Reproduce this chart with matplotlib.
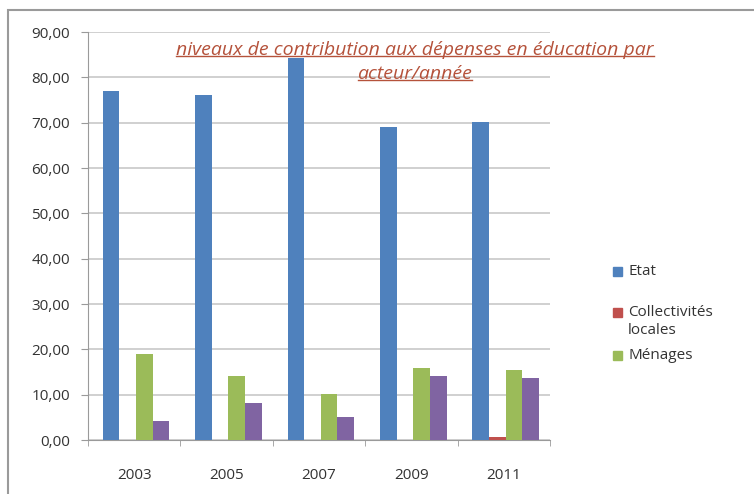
import matplotlib
matplotlib.use("Agg")
import matplotlib.pyplot as plt
from matplotlib.ticker import FuncFormatter, FixedLocator
from matplotlib.patches import Rectangle
import numpy as np

# data
years = ["2003", "2005", "2007", "2009", "2011"]
etat = [77.0, 76.1, 84.3, 69.0, 70.1]
collectivites = [0.0, 0.0, 0.0, 0.0, 0.7]
menages = [19.0, 14.1, 10.1, 15.9, 15.4]
autres = [4.2, 8.2, 5.1, 14.1, 13.7]

series_names = ["Etat", "Collectivités\nlocales", "Ménages"]
colors = ["#4F81BD", "#C0504D", "#9BBB59", "#8064A2"]

plt.rcParams['font.family'] = ['Open Sans', 'DejaVu Sans']

W, H = 754, 494
fig = plt.figure(figsize=(W / 100, H / 100), dpi=100)
# outer chart frame (cut off on the right and bottom, like the screenshot)
fig.patches.append(Rectangle((8 / W, -0.1), 1.2, (H - 10) / H + 0.1,
                             transform=fig.transFigure, fill=False,
                             edgecolor="#9a9a9a", linewidth=1.5))

ax = fig.add_axes([88 / W, 54 / H, 462 / W, 408 / H])

x = np.arange(len(years))
w = 0.18
offsets = [-1.5 * w, -0.5 * w, 0.5 * w, 1.5 * w]
for vals, off, c in zip([etat, collectivites, menages, autres], offsets, colors):
    ax.bar(x + off + 0.02, vals, width=w, color=c, zorder=3)

ax.set_xlim(-0.5, len(years) - 0.5)
ax.set_ylim(0, 90)
ax.set_yticks(np.arange(0, 91, 10))
ax.yaxis.set_major_formatter(FuncFormatter(lambda v, p: f"{v:.2f}".replace(".", ",")))
ax.set_xticks(x)
ax.set_xticklabels(years)
ax.xaxis.set_minor_locator(FixedLocator(np.arange(-0.5, len(years), 1)))
ax.tick_params(axis="x", which="major", length=0, pad=20, labelsize=11, colors="#333333")
ax.tick_params(axis="x", which="minor", length=4, color="#9a9a9a")
ax.tick_params(axis="y", length=5, color="#9a9a9a", labelsize=11, labelcolor="#333333", pad=8)

ax.grid(axis="y", color="#c8c8c8", linewidth=1.2, zorder=0)
for s in ["top", "right"]:
    ax.spines[s].set_visible(False)
for s in ["left", "bottom"]:
    ax.spines[s].set_color("#9a9a9a")

# title, italic and underlined
title_color = "#B5523B"
t1 = fig.text(415 / W, 1 - 50 / H, "niveaux de contribution aux dépenses en éducation par",
              ha="center", va="center", style="italic", fontsize=14, color=title_color)
t2 = fig.text(415 / W, 1 - 74 / H, "acteur/année",
              ha="center", va="center", style="italic", fontsize=14, color=title_color)
fig.canvas.draw()
r = fig.canvas.get_renderer()
inv = fig.transFigure.inverted()
for t in (t1, t2):
    bb = t.get_window_extent(r)
    (x0, y0), (x1, _) = inv.transform([(bb.x0, bb.y0 + 3), (bb.x1, bb.y0 + 3)])
    fig.add_artist(plt.Line2D([x0, x1], [y0, y0], transform=fig.transFigure,
                              color=title_color, linewidth=1.0))

# legend, laid out like the Excel one (uneven spacing)
legend_rows = [272, 313, 356]
for name, c, yy in zip(series_names, colors[:3], legend_rows):
    fig.patches.append(Rectangle((613 / W, 1 - (yy + 4) / H), 9 / W, 9 / H,
                                 transform=fig.transFigure, color=c))
    fig.text(628 / W, 1 - (yy - 8) / H, name, ha="left", va="top",
             fontsize=11, color="#333333", linespacing=1.3)

fig.savefig("out.png", dpi=100)
